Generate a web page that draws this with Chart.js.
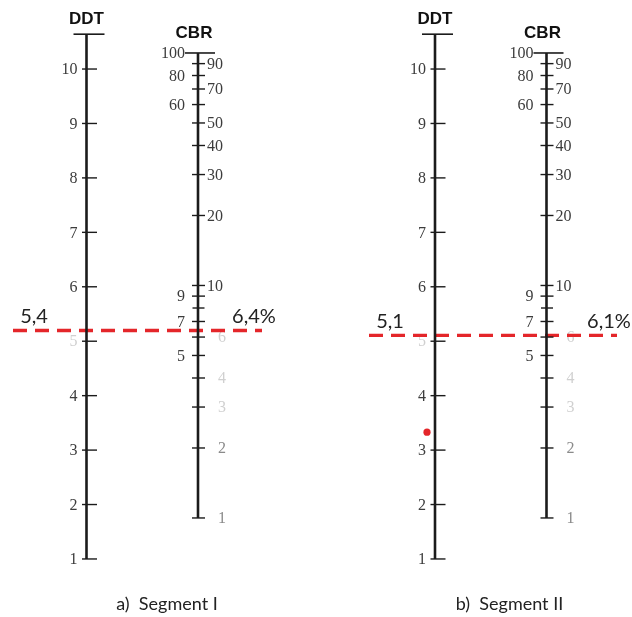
<!DOCTYPE html>
<html>
<head>
<meta charset="utf-8">
<script src="https://cdn.jsdelivr.net/npm/chart.js@4.4.1/dist/chart.umd.min.js"></script>
<style>
  html, body { margin: 0; padding: 0; background: #fff; }
  #wrap { width: 632px; height: 617px; }
</style>
</head>
<body>
<div id="wrap"><canvas id="nomo" width="632" height="617"></canvas></div>
<script>
// Nomogram scales (DDT linear, CBR logarithmic)
const ddtTicks = [1, 2, 3, 4, 5, 6, 7, 8, 9, 10];
const ddtTop = 10.64;
const cbrTicksLeft = [5, 7, 9, 60, 80, 100];
const cbrTicksRight = [1, 2, 3, 4, 6, 10, 20, 30, 40, 50, 70, 90];
const cbrTicksBlank = [8];
const cbrMin = 1;
const cbrMax = 100;

// Readings for each segment
const segments = ['a)  Segment I', 'b)  Segment II'];
const ddtReadLabels = ['5,4', '5,1'];
const cbrRead = [6.4, 6.1];
const cbrReadLabels = ['6,4%', '6,1%'];
const dotDdt = [null, 3.33];

// layout (pixels on the hidden x scale)
const panelShift = [0, 348.5];
const ddtX = 86.5;
const cbrX = 198;
const dashFrom = [13, 369];
const dashTo = [262, 617];

const INK = '#1b1b1b';
const RED = '#e4262a';

function segLine(points, axis, width, color, dash) {
    return {
        showLine: true,
        data: points,
        yAxisID: axis,
        borderColor: color,
        borderWidth: width,
        borderDash: dash || [],
        pointRadius: 0,
        clip: false
    };
}

function tickMarks(values, x, axis, len) {
    return {
        showLine: false,
        data: values.map(v => ({ x: x, y: v })),
        yAxisID: axis,
        pointStyle: 'line',
        pointRadius: len,
        borderColor: INK,
        pointBorderColor: INK,
        pointBorderWidth: 1.4,
        clip: false
    };
}

const datasets = [];
segments.forEach((seg, i) => {
    const dx = panelShift[i] + ddtX;
    const cx = panelShift[i] + cbrX;
    // axes
    datasets.push(segLine([{ x: dx, y: 1 }, { x: dx, y: ddtTop }], 'ddt', 2.6, INK));
    datasets.push(segLine([{ x: dx - 13, y: ddtTop }, { x: dx + 18, y: ddtTop }], 'ddt', 1.6, INK));
    datasets.push(segLine([{ x: cx, y: cbrMin }, { x: cx, y: cbrMax }], 'cbr', 2.6, INK));
    datasets.push(segLine([{ x: cx - 13, y: cbrMax }, { x: cx + 17, y: cbrMax }], 'cbr', 1.6, INK));
    datasets.push(tickMarks(ddtTicks, dx + 3, 'ddt', 7.5));
    datasets.push(tickMarks(cbrTicksLeft.concat(cbrTicksRight).filter(v => v !== cbrMax), cx + 0.5, 'cbr', 6.5));
    datasets.push(tickMarks(cbrTicksBlank, cx + 0.5, 'cbr', 6));
    // reading
    datasets.push(segLine([{ x: dashFrom[i], y: cbrRead[i] }, { x: dashTo[i], y: cbrRead[i] }], 'cbr', 3.4, RED, [14, 8]));
    if (dotDdt[i] !== null) {
        datasets.push({
            showLine: false,
            data: [{ x: dx - 8, y: dotDdt[i] }],
            yAxisID: 'ddt',
            pointRadius: 3.6,
            pointBackgroundColor: RED,
            pointBorderColor: RED,
            pointBorderWidth: 0,
            clip: false
        });
    }
});

const faded = { ddt: [5], cbr: [3, 4, 6] };
const dim = { cbr: [1, 2] };

function labelColor(axis, v) {
    if ((faded[axis] || []).includes(v)) return '#d0d0d0';
    if ((dim[axis] || []).includes(v)) return '#8a8a8a';
    return '#3c3c3c';
}

const textPlugin = {
    id: 'nomoText',
    beforeDatasetsDraw(chart) {
        const ctx = chart.ctx;
        const ys = chart.scales.ddt;
        const yc = chart.scales.cbr;
        ctx.save();
        ctx.font = '16px "Liberation Serif", serif';
        ctx.textBaseline = 'middle';
        segments.forEach((seg, i) => {
            const dx = panelShift[i] + ddtX;
            const cx = panelShift[i] + cbrX;
            ctx.textAlign = 'right';
            ddtTicks.forEach(v => {
                ctx.fillStyle = labelColor('ddt', v);
                ctx.fillText(String(v), dx - 9, ys.getPixelForValue(v) + 1);
            });
            cbrTicksLeft.forEach(v => {
                ctx.fillStyle = labelColor('cbr', v);
                ctx.fillText(String(v), cx - 13, yc.getPixelForValue(v) + 1);
            });
            ctx.textAlign = 'left';
            cbrTicksRight.forEach(v => {
                ctx.fillStyle = labelColor('cbr', v);
                const off = v < 10 ? 20 : 9;
                ctx.fillText(String(v), cx + off, yc.getPixelForValue(v) + 1);
            });
        });
        ctx.restore();
    },
    afterDatasetsDraw(chart) {
        const ctx = chart.ctx;
        const yc = chart.scales.cbr;
        ctx.save();
        ctx.textAlign = 'center';
        ctx.textBaseline = 'middle';
        segments.forEach((seg, i) => {
            const dx = panelShift[i] + ddtX;
            const cx = panelShift[i] + cbrX;
            ctx.fillStyle = '#111';
            ctx.font = 'bold 17px "Liberation Sans", Arial, sans-serif';
            ctx.fillText('DDT', dx, 19);
            ctx.fillText('CBR', cx - 4, 33);
            const ly = yc.getPixelForValue(cbrRead[i]) - 14;
            ctx.fillStyle = '#222';
            ctx.font = '20px Lato, sans-serif';
            ctx.fillText(ddtReadLabels[i], dashFrom[i] + 21, ly);
            ctx.fillText(cbrReadLabels[i], dashTo[i] - 8, ly);
            ctx.font = '18px Lato, sans-serif';
            ctx.fillText(seg, panelShift[i] + 167 + i * -6, 604);
        });
        ctx.restore();
    }
};

new Chart(document.getElementById('nomo'), {
    type: 'scatter',
    data: { datasets: datasets },
    options: {
        responsive: false,
        animation: false,
        events: [],
        layout: { padding: 0, autoPadding: false },
        plugins: { legend: { display: false }, tooltip: { enabled: false } },
        scales: {
            x: { type: 'linear', min: 0, max: 632, display: false },
            ddt: { type: 'linear', axis: 'y', min: -0.066, max: 11.268, display: false },
            cbr: { type: 'logarithmic', axis: 'y', min: 0.375, max: 169, bounds: 'data', display: false }
        }
    },
    plugins: [textPlugin]
});
</script>
</body>
</html>
